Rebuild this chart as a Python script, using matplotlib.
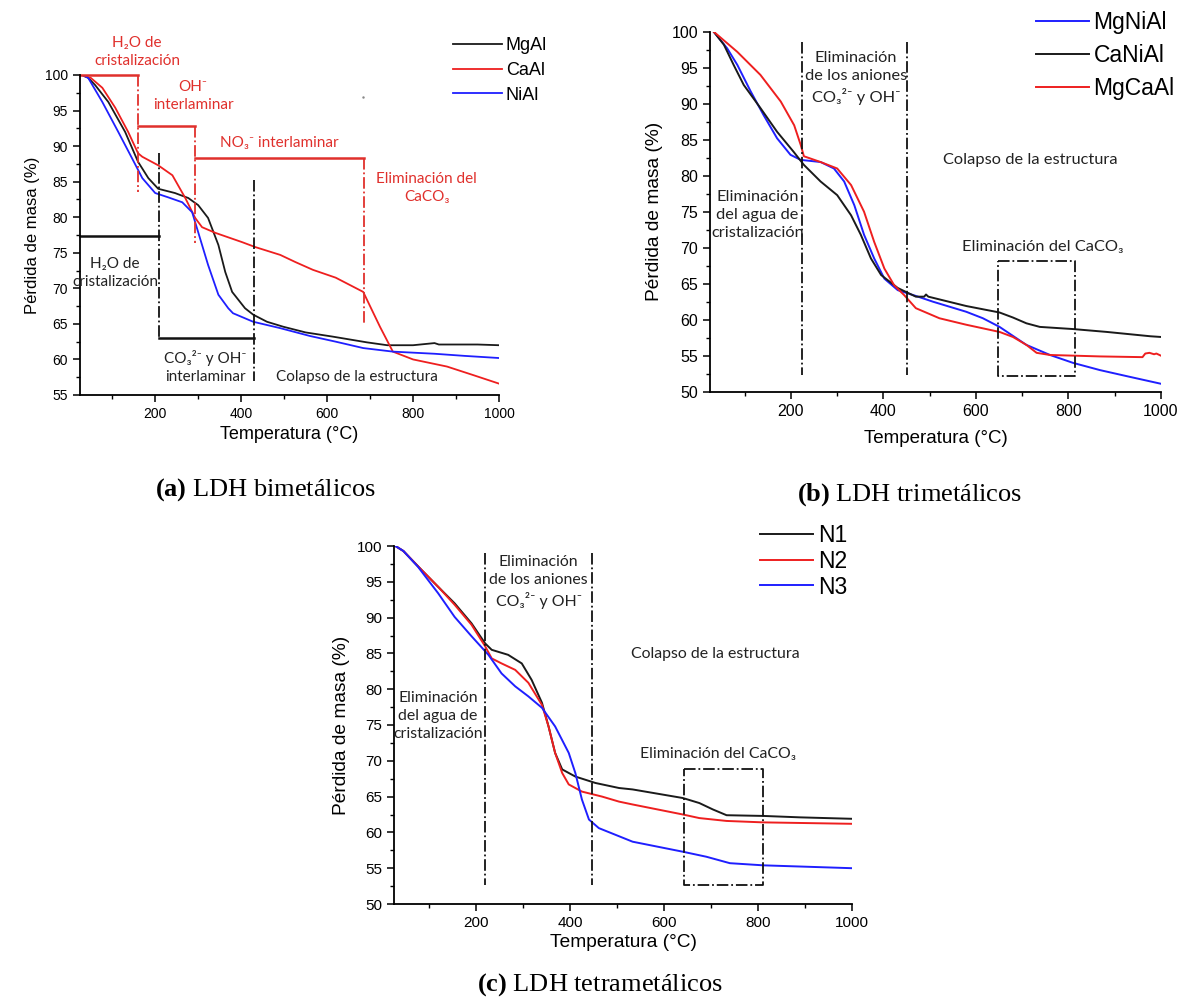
import matplotlib
matplotlib.use("Agg")
import matplotlib.pyplot as plt
from matplotlib.ticker import MultipleLocator

plt.rcParams['font.family'] = ['Liberation Sans', 'DejaVu Sans']
plt.rcParams['mathtext.fontset'] = 'custom'
plt.rcParams['mathtext.rm'] = 'Liberation Serif'
plt.rcParams['mathtext.bf'] = 'Liberation Serif:bold'
NOTE_FONT = ['Lato', 'DejaVu Sans']
RED = '#ee1f1f'
BLUE = '#1f1fff'
BLACK = '#1a1a1a'
NOTE_RED = '#e0302c'

# ---- (a) LDH bimetalicos
t_mgal = [30, 44, 60, 91, 130, 160, 184, 207, 246, 277, 300, 323, 347, 363, 379,
          409, 428, 460, 498, 550, 614, 693, 740, 800, 850, 860, 900, 950, 1000]
m_mgal = [100, 99.6, 98.6, 96.2, 92.0, 87.8, 85.5, 84.0, 83.4, 82.7, 81.7, 79.9, 76.1,
          72.3, 69.5, 67.2, 66.3, 65.3, 64.6, 63.8, 63.2, 62.4, 62.0, 62.0, 62.3, 62.1,
          62.1, 62.1, 62.0]
t_caal = [37, 50, 77, 107, 137, 160, 170, 207, 240, 270, 293, 309, 340, 402, 433, 491,
          526, 567, 620, 684, 723, 753, 800, 879, 940, 1000]
m_caal = [99.8, 99.6, 98.2, 95.4, 92.0, 89.0, 88.5, 87.3, 85.9, 82.7, 79.9, 78.6, 77.8,
          76.5, 75.8, 74.7, 73.7, 72.6, 71.5, 69.5, 64.6, 61.1, 60.0, 59.0, 57.8, 56.6]
t_nial = [30, 44, 77, 114, 146, 170, 200, 230, 263, 286, 300, 323, 347, 370, 381, 428,
          491, 560, 620, 684, 753, 850, 920, 1000]
m_nial = [100, 99.6, 96.2, 92.0, 88.3, 85.5, 83.4, 82.8, 82.1, 80.7, 77.9, 73.3, 69.1,
          67.2, 66.5, 65.3, 64.4, 63.3, 62.5, 61.6, 61.1, 60.8, 60.5, 60.2]

# ---- (b) LDH trimetalicos
t_mgnial = [33, 62, 84, 113, 141, 170, 199, 221, 264, 293, 315, 337, 358, 380, 402, 431,
            470, 507, 579, 615, 651, 709, 760, 810, 868, 930, 1000]
m_mgnial = [100, 97.7, 95.4, 91.7, 88.4, 85.2, 82.9, 82.2, 81.9, 81.0, 79.2, 75.9, 71.8,
            68.5, 65.7, 64.1, 63.3, 62.5, 61.1, 60.2, 59.0, 56.5, 55.1, 54.0, 53.0, 52.1, 51.1]
t_canial = [33, 55, 76, 98, 134, 170, 206, 228, 264, 300, 330, 351, 373, 395, 431, 470,
            488, 492, 497, 579, 651, 680, 709, 738, 810, 883, 977, 1000]
m_canial = [100, 98.2, 95.4, 92.6, 89.4, 86.1, 83.3, 81.5, 79.2, 77.3, 74.5, 71.8, 68.5,
            66.2, 64.4, 63.2, 63.2, 63.5, 63.2, 61.9, 61.0, 60.3, 59.5, 59.0, 58.7, 58.3,
            57.7, 57.6]
t_mgcaal = [33, 84, 134, 178, 207, 221, 228, 264, 300, 330, 358, 380, 402, 423, 445, 470,
            521, 579, 651, 680, 709, 731, 760, 868, 960, 966, 975, 985, 990, 1000]
m_mgcaal = [100, 97.2, 94.0, 90.3, 87.0, 84.3, 82.7, 81.9, 81.0, 78.7, 75.0, 70.8, 67.1,
            64.8, 63.4, 61.6, 60.2, 59.3, 58.3, 57.6, 56.5, 55.4, 55.1, 54.9, 54.8, 55.3,
            55.4, 55.2, 55.3, 55.0]

# ---- (c) LDH tetrametalicos
t_n1 = [28, 45, 83, 119, 154, 190, 219, 233, 268, 297, 318, 340, 354, 368, 383, 411, 454,
        504, 533, 640, 675, 704, 733, 811, 890, 1000]
m_n1 = [100, 99.3, 96.7, 94.3, 92.0, 89.2, 86.4, 85.5, 84.8, 83.6, 81.3, 78.1, 74.8, 71.1,
        68.8, 67.8, 66.9, 66.2, 66.0, 64.8, 64.1, 63.2, 62.4, 62.3, 62.1, 61.9]
t_n2 = [28, 45, 83, 119, 154, 190, 219, 233, 254, 283, 311, 340, 354, 368, 383, 397, 425,
        468, 504, 533, 640, 675, 733, 811, 1000]
m_n2 = [100, 99.3, 96.7, 94.3, 91.8, 89.0, 86.0, 84.3, 83.6, 82.7, 80.9, 77.8, 74.8, 71.1,
        68.3, 66.7, 65.7, 65.0, 64.3, 63.9, 62.5, 62.0, 61.6, 61.4, 61.2]
t_n3 = [28, 45, 76, 119, 154, 190, 226, 254, 283, 311, 340, 368, 397, 411, 425, 440, 461,
        533, 640, 690, 740, 811, 1000]
m_n3 = [100, 99.3, 97.1, 93.4, 90.1, 87.4, 84.8, 82.2, 80.4, 79.0, 77.4, 74.8, 71.1, 68.3,
        64.6, 61.8, 60.6, 58.7, 57.3, 56.6, 55.7, 55.4, 55.0]

W, H = 1182, 1006
fig = plt.figure(figsize=(W / 100, H / 100), dpi=100)


def px_axes(left, top, right, bottom):
    return fig.add_axes([left / W, 1 - bottom / H, (right - left) / W, (bottom - top) / H])


def style(ax, ymin, tick_fs, xlabel_fs, ylabel_fs, labelpad_y, labelpad_x):
    ax.set_xlim(25, 1000)
    ax.set_ylim(ymin, 100)
    ax.xaxis.set_major_locator(MultipleLocator(200))
    ax.xaxis.set_minor_locator(MultipleLocator(100))
    ax.yaxis.set_major_locator(MultipleLocator(5))
    ax.yaxis.set_minor_locator(MultipleLocator(2.5))
    for s in ('top', 'right'):
        ax.spines[s].set_visible(False)
    for s in ('left', 'bottom'):
        ax.spines[s].set_linewidth(1.3)
    ax.tick_params(which='major', length=5, width=1.1, labelsize=tick_fs, direction='out')
    ax.tick_params(which='minor', length=3, width=1.0, direction='out')
    ax.set_xlabel('Temperatura (°C)', fontsize=xlabel_fs, labelpad=labelpad_x)
    ax.set_ylabel('Pérdida de masa (%)', fontsize=ylabel_fs, labelpad=labelpad_y)


def note(ax, x, y, s, fs, color='#222222'):
    ax.text(x, y, s, fontsize=fs, color=color, ha='center', va='center',
            family=NOTE_FONT, clip_on=False, linespacing=1.35)


def vline(ax, x, y0, y1, color='#111111', lw=1.3):
    ax.plot([x, x], [y0, y1], color=color, lw=lw, ls='-.', clip_on=False)


def hline(ax, y, x0, x1, color='#111111', lw=1.8):
    ax.plot([x0, x1], [y, y], color=color, lw=lw, ls='-', clip_on=False)


# ===== panel (a)
ax = px_axes(80, 75, 499, 395)
style(ax, 55, 10, 13, 12, 4, 4)
ax.plot(t_mgal, m_mgal, color=BLACK, lw=1.3, label='MgAl')
ax.plot(t_caal, m_caal, color=RED, lw=1.3, label='CaAl')
ax.plot(t_nial, m_nial, color=BLUE, lw=1.3, label='NiAl')
ax.legend(loc='upper left', bbox_to_anchor=(0.874, 1.14), frameon=False,
          fontsize=13, handlelength=2.7, handletextpad=0.2, labelspacing=0.42,
          borderaxespad=0)

# red stage markers
hline(ax, 100, 25, 160, NOTE_RED)
vline(ax, 160, 100, 83.6, NOTE_RED)
hline(ax, 92.8, 160, 293, NOTE_RED)
vline(ax, 293, 92.8, 76.4, NOTE_RED)
hline(ax, 88.3, 293, 686, NOTE_RED)
vline(ax, 686, 88.3, 64.8, NOTE_RED)
note(ax, 158, 103.2, 'H₂O de\ncristalización', 11, NOTE_RED)
note(ax, 288, 97.0, 'OH⁻\ninterlaminar', 11, NOTE_RED)
note(ax, 488, 90.4, 'NO₃⁻ interlaminar', 11, NOTE_RED)
note(ax, 832, 84.1, 'Eliminación del\nCaCO₃', 11, NOTE_RED)

# black stage markers
hline(ax, 77.4, 25, 209)
vline(ax, 209, 89, 63)
hline(ax, 63, 209, 430)
vline(ax, 430, 85.2, 57)
note(ax, 107, 72.1, 'H₂O de\ncristalización', 11)
note(ax, 316, 58.9, 'CO₃²⁻ y OH⁻\ninterlaminar', 11)
note(ax, 670, 57.5, 'Colapso de la estructura', 11)
ax.plot([684], [96.9], marker='.', ms=1.5, color='#888888', clip_on=False)

# ===== panel (b)
ax = px_axes(710, 31.7, 1161, 391.7)
style(ax, 50, 11.5, 13.5, 13.8, 6, 8)
ax.plot(t_mgnial, m_mgnial, color=BLUE, lw=1.4, label='MgNiAl')
ax.plot(t_canial, m_canial, color=BLACK, lw=1.4, label='CaNiAl')
ax.plot(t_mgcaal, m_mgcaal, color=RED, lw=1.4, label='MgCaAl')
ax.legend(loc='upper left', bbox_to_anchor=(0.703, 1.082), frameon=False,
          fontsize=16.5, handlelength=2.3, handletextpad=0.2, labelspacing=0.42,
          borderaxespad=0)
vline(ax, 223, 98.6, 52.3)
vline(ax, 451, 98.6, 52.3)
ax.plot([648, 814, 814, 648, 648], [68.2, 68.2, 52.2, 52.2, 68.2],
        color='#111111', lw=1.3, ls='-.')
note(ax, 341, 93.6, 'Eliminación\nde los aniones\nCO₃²⁻ y OH⁻', 11.8)
note(ax, 128, 74.5, 'Eliminación\ndel agua de\ncristalización', 11.8)
note(ax, 718, 82.2, 'Colapso de la estructura', 11.8)
note(ax, 745, 70.1, 'Eliminación del CaCO₃', 11.8)

# ===== panel (c)
ax = px_axes(394, 546, 852, 904)
style(ax, 50, 11, 13.8, 13.8, 5, 3)
ax.plot(t_n1, m_n1, color=BLACK, lw=1.4, label='N1')
ax.plot(t_n2, m_n2, color=RED, lw=1.4, label='N2')
ax.plot(t_n3, m_n3, color=BLUE, lw=1.4, label='N3')
ax.legend(loc='upper left', bbox_to_anchor=(0.78, 1.087), frameon=False,
          fontsize=16.5, handlelength=2.3, handletextpad=0.2, labelspacing=0.12,
          borderaxespad=0)
vline(ax, 219, 99, 52.7)
vline(ax, 447, 99, 52.7)
ax.plot([643, 811, 811, 643, 643], [68.8, 68.8, 52.7, 52.7, 68.8],
        color='#111111', lw=1.3, ls='-.')
note(ax, 333, 95.0, 'Eliminación\nde los aniones\nCO₃²⁻ y OH⁻', 11.4)
note(ax, 119, 76.3, 'Eliminación\ndel agua de\ncristalización', 11.4)
note(ax, 710, 84.9, 'Colapso de la estructura', 11.4)
note(ax, 715, 70.9, 'Eliminación del CaCO₃', 11.4)

# captions
cap = dict(family=['Liberation Serif', 'DejaVu Serif'], fontsize=19, ha='center', va='center')
fig.text(265 / W, 1 - 490 / H, r'$\mathbf{(a)}$ LDH bimetálicos', **cap)
fig.text(910 / W, 1 - 495 / H, r'$\mathbf{(b)}$ LDH trimetálicos', **cap)
fig.text(600 / W, 1 - 985 / H, r'$\mathbf{(c)}$ LDH tetrametálicos', **cap)

fig.savefig('out.png', dpi=100)
